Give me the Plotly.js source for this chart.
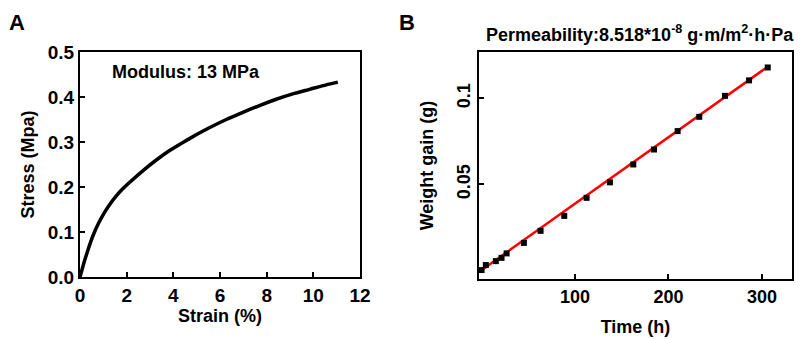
<!DOCTYPE html>
<html>
<head>
<meta charset="utf-8">
<script src="https://cdn.plot.ly/plotly-3.0.1.min.js"></script>
<style>html,body{margin:0;padding:0;background:#fff}#chart{width:802px;height:339px}</style>
</head>
<body>
<div id="chart"></div>
<script>
// Panel A: stress-strain curve
const strainPct = [0, 0.086, 0.16, 0.31, 0.45, 0.59, 0.81, 1.02, 1.23, 1.52, 1.81, 2.12, 2.69, 3.27, 3.84, 4.41, 4.98, 5.48, 6.27, 6.98, 7.69, 8.41, 9.12, 9.84, 10.55, 11.05];
const stressMpa = [0, 0.016, 0.030, 0.055, 0.077, 0.096, 0.121, 0.141, 0.158, 0.178, 0.195, 0.210, 0.236, 0.260, 0.281, 0.299, 0.316, 0.330, 0.350, 0.366, 0.381, 0.395, 0.407, 0.417, 0.427, 0.433];

// Panel B: weight gain vs time
const timeH = [0.2, 4.8, 15.5, 21.6, 27, 45.5, 63.3, 88.6, 112.5, 137.4, 162.4, 184.5, 209.8, 232.9, 260.4, 286.1, 306.1];
const weightG = [0.0002, 0.0031, 0.0054, 0.0073, 0.0099, 0.016, 0.023, 0.0317, 0.0422, 0.0512, 0.0616, 0.0703, 0.081, 0.0893, 0.1015, 0.1105, 0.118];
const fitTime = [-2.5, 306.5];
const fitWeight = [-0.0009, 0.1186];

const xTicksA = [0, 2, 4, 6, 8, 10, 12];
const yTicksA = [0.0, 0.1, 0.2, 0.3, 0.4, 0.5];
const yTickTextA = ['0.0', '0.1', '0.2', '0.3', '0.4', '0.5'];
const xTicksB = [100, 200, 300];
const yTicksB = [0.05, 0.1];
const yTickTextB = ['0.05', '0.1'];

const FONT = 'Liberation Sans, Arial, sans-serif';

const traces = [
  {x: strainPct, y: stressMpa, type: 'scatter', mode: 'lines', xaxis: 'x', yaxis: 'y',
   line: {color: '#000', width: 3.5, shape: 'spline', smoothing: 0.6}, showlegend: false},
  {x: fitTime, y: fitWeight, type: 'scatter', mode: 'lines', xaxis: 'x2', yaxis: 'y2',
   line: {color: '#ff0000', width: 2.5}, showlegend: false},
  {x: timeH, y: weightG, type: 'scatter', mode: 'markers', xaxis: 'x2', yaxis: 'y2',
   marker: {symbol: 'square', color: '#000', size: 6}, showlegend: false}
];

const axisCommon = {
  showline: true, linecolor: '#000', linewidth: 2, mirror: true,
  ticks: 'inside', ticklen: 5, tickwidth: 2, tickcolor: '#000',
  showgrid: false, zeroline: false,
  tickfont: {family: FONT, size: 19, color: '#000', weight: 'bold'}
};

const layout = {
  width: 802, height: 339,
  margin: {l: 0, r: 0, t: 0, b: 0},
  paper_bgcolor: '#fff', plot_bgcolor: '#fff',
  font: {family: FONT, color: '#000'},
  showlegend: false,
  xaxis: Object.assign({}, axisCommon, {
    domain: [80/802, 360/802], range: [0, 12], tickmode: 'array', tickvals: xTicksA,
    anchor: 'y',
    title: {text: 'Strain (%)', font: {family: FONT, size: 18, weight: 'bold', color: '#000'}, standoff: 5}
  }),
  yaxis: Object.assign({}, axisCommon, {
    domain: [1 - 277/339, 1 - 52/339], range: [0, 0.5], tickmode: 'array', tickvals: yTicksA, ticktext: yTickTextA,
    anchor: 'x',
    title: {text: 'Stress (Mpa)', font: {family: FONT, size: 18, weight: 'bold', color: '#000'}, standoff: 8}
  }),
  xaxis2: Object.assign({}, axisCommon, {
    domain: [479/802, 792/802], range: [-2.5, 332], tickmode: 'array', tickvals: xTicksB,
    anchor: 'y2',
    tickfont: {family: FONT, size: 18, color: '#000', weight: 'bold'},
    title: {text: 'Time (h)', font: {family: FONT, size: 18, weight: 'bold', color: '#000'}, standoff: 15}
  }),
  yaxis2: Object.assign({}, axisCommon, {
    domain: [1 - 279/339, 1 - 52/339], range: [-0.005, 0.127], tickmode: 'array', tickvals: yTicksB, ticktext: yTickTextB,
    anchor: 'x2', tickangle: -90,
    tickfont: {family: FONT, size: 18, color: '#000', weight: 'bold'},
    title: {text: 'Weight gain (g)', font: {family: FONT, size: 18, weight: 'bold', color: '#000'}, standoff: 15}
  }),
  annotations: [
    {text: 'A', xref: 'paper', yref: 'paper', x: 17/802, y: 1 - 23/339, xanchor: 'center', yanchor: 'middle',
     showarrow: false, font: {family: FONT, size: 22, weight: 'bold', color: '#000'}},
    {text: 'B', xref: 'paper', yref: 'paper', x: 407/802, y: 1 - 23/339, xanchor: 'center', yanchor: 'middle',
     showarrow: false, font: {family: FONT, size: 22, weight: 'bold', color: '#000'}},
    {text: 'Modulus: 13 MPa', xref: 'paper', yref: 'paper', x: 186/802, y: 1 - 72/339, xanchor: 'center', yanchor: 'middle',
     showarrow: false, font: {family: FONT, size: 18, weight: 'bold', color: '#000'}},
    {text: 'Permeability:8.518*10<sup>-8</sup> g·m/m<sup>2</sup>·h·Pa', xref: 'paper', yref: 'paper', x: 640/802, y: 1 - 33/339,
     xanchor: 'center', yanchor: 'middle', showarrow: false,
     font: {family: FONT, size: 18, weight: 'bold', color: '#000'}}
  ]
};

Plotly.newPlot('chart', traces, layout, {displayModeBar: false, staticPlot: true});
</script>
</body>
</html>
